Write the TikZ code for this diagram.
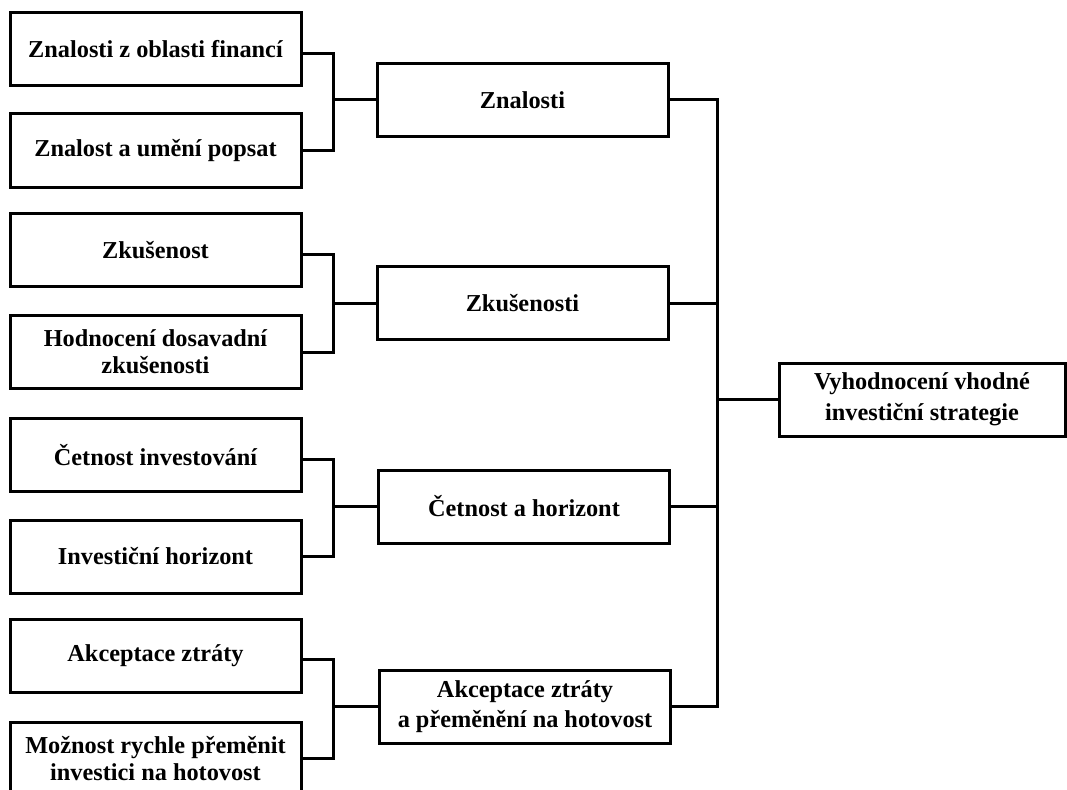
\documentclass[tikz,border=0pt]{standalone}
\usepackage{fontspec}
\setmainfont{Liberation Serif}
\usetikzlibrary{calc}
\begin{document}
\begin{tikzpicture}[x=1pt,y=-1pt,
  box/.style={draw=black, line width=3pt, fill=white, inner sep=2pt,
    minimum width=291pt, minimum height=73pt, align=center,
    font=\fontsize{24.3}{27}\selectfont\bfseries},
  conn/.style={draw=black, line width=3pt}]
\useasboundingbox (0,0) rectangle (1067,789);
\clip (0,0) rectangle (1067,789);
% left boxes
\node[box] (L1) at (155.5,49.5) {Znalosti z oblasti financí};
\node[box] (L2) at (155.5,150.5) {Znalost a umění popsat};
\node[box] (L3) at (155.5,250) {Zkušenost};
\node[box] (L4) at (155.5,352) {Hodnocení dosavadní\\zkušenosti};
\node[box] (L5) at (155.5,455) {Četnost investování};
\node[box] (L6) at (155.5,556.5) {Investiční horizont};
\node[box] (L7) at (155.5,655.5) {Akceptace ztráty};
\node[box] (L8) at (155.5,758.5) {Možnost rychle přeměnit\\investici na hotovost};
% middle boxes
\node[box] (M1) at (522.5,100) {Znalosti};
\node[box] (M2) at (522.5,303) {Zkušenosti};
\node[box] (M3) at (524,506.5) {Četnost a horizont};
\node[box, font=\fontsize{24.3}{29.5}\selectfont\bfseries] (M4) at (525,706.5) {Akceptace ztráty\\a přeměnění na hotovost};
% final box
\node[box, minimum width=286pt, font=\fontsize{24.3}{31}\selectfont\bfseries] (F) at (922,399.5) {Vyhodnocení vhodné\\investiční strategie};
% bracket and spine positions
\coordinate (bx) at (333,0);
\coordinate (sp) at (717,0);
% left connectors
\foreach \a/\b/\m in {L1/L2/M1, L3/L4/M2, L5/L6/M3, L7/L8/M4}{
  \draw[conn] ([yshift=-4pt]\a.east) -- ([yshift=-4pt]\a.east -| bx) |- (\m.west);
  \draw[conn] (\b.east) -- (\b.east -| bx) |- (\m.west);
}
% right connectors
\foreach \m in {M1,M2,M3,M4}{
  \draw[conn] (\m.east) -- (\m.east -| sp) |- (F.west);
}
\end{tikzpicture}
\end{document}
